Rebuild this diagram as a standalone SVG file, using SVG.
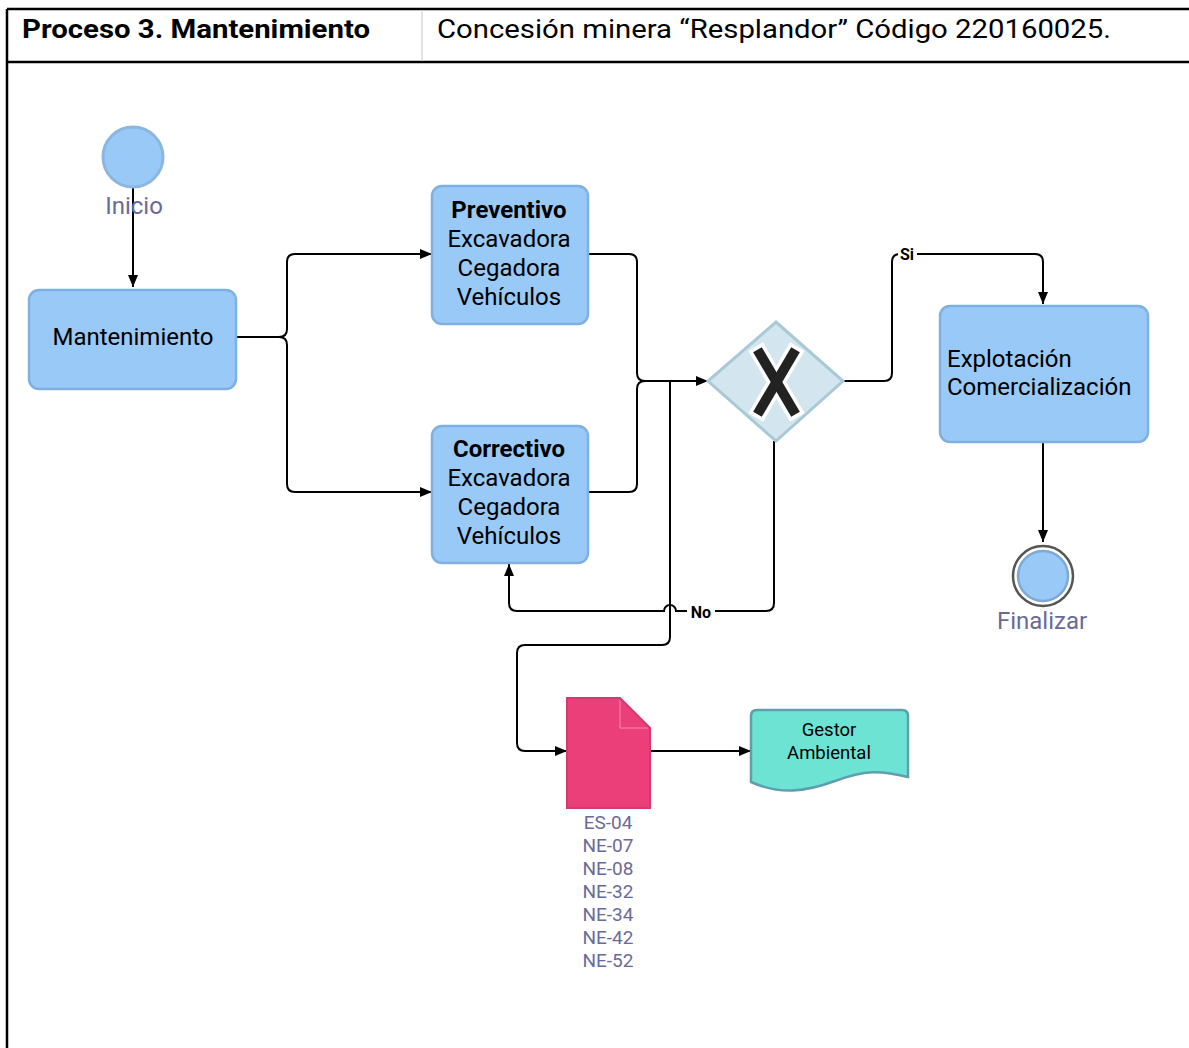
<svg xmlns="http://www.w3.org/2000/svg" width="1189" height="1048" viewBox="0 0 1189 1048">
<style>
.frame{fill:none;stroke:#000;stroke-width:2.5}
.task{fill:#99c9f7;stroke:#7eb0e2;stroke-width:2.5}
.tx{font-family:Roboto,"Liberation Sans",sans-serif;font-size:24px;fill:#000}
.lbl{font-family:Roboto,"Liberation Sans",sans-serif;fill:#6a6a9a}
.con{fill:none;stroke:#000;stroke-width:2}
.cl{font-family:Roboto,"Liberation Sans",sans-serif;font-size:16px;font-weight:bold;fill:#000}
</style>
<defs>
<marker id="ah" viewBox="0 0 12 10" refX="12" refY="5" markerWidth="12" markerHeight="10" markerUnits="userSpaceOnUse" orient="auto">
<path d="M0,0 L12,5 L0,10 Z" fill="#000"/>
</marker>
</defs>
<rect width="1189" height="1048" fill="#fff"/>
<g id="table">
<line x1="7" y1="9" x2="1189" y2="9" class="frame"/>
<line x1="7" y1="62" x2="1189" y2="62" class="frame"/>
<line x1="7" y1="9" x2="7" y2="1048" class="frame"/>
<line x1="422" y1="10" x2="422" y2="61" stroke="#d8d8d8" stroke-width="1.5"/>
<text x="22" y="38" font-family="Roboto,'Liberation Sans',sans-serif" font-size="26" font-weight="bold" textLength="348" lengthAdjust="spacingAndGlyphs">Proceso 3. Mantenimiento</text>
<text x="437" y="38" font-family="Roboto,'Liberation Sans',sans-serif" font-size="26" textLength="674" lengthAdjust="spacingAndGlyphs">Concesión minera “Resplandor” Código 220160025.</text>
</g>
<g id="connectors">
<path class="con" d="M133,188 V287" marker-end="url(#ah)"/>
<path class="con" d="M236,337 H279 Q287,337 287,329 V262 Q287,254 295,254 H432" marker-end="url(#ah)"/>
<path class="con" d="M279,337 Q287,337 287,345 V484 Q287,492 295,492 H432" marker-end="url(#ah)"/>
<path class="con" d="M588,254 H629 Q637,254 637,262 V373 Q637,381 645,381 H708" marker-end="url(#ah)"/>
<path class="con" d="M588,492 H629 Q637,492 637,484 V389 Q637,381 645,381"/>
<path class="con" d="M843,381 H884 Q892,381 892,373 V262 Q892,254 900,254 H1035 Q1043,254 1043,262 V304" marker-end="url(#ah)"/>
<path class="con" d="M1043,442 V542" marker-end="url(#ah)"/>
<path class="con" d="M774,441 V603 Q774,611 766,611 H676 A6,6 0 0 0 664,611 H517 Q509,611 509,603 V564" marker-end="url(#ah)"/>
<path class="con" d="M670,381 V637 Q670,645 662,645 H525 Q517,645 517,653 V743 Q517,751 525,751 H567" marker-end="url(#ah)"/>
<path class="con" d="M650,751 H751" marker-end="url(#ah)"/>
<rect x="687" y="603" width="28" height="17" fill="#fff"/>
<text x="701" y="618" class="cl" text-anchor="middle">No</text>
<rect x="898" y="246" width="19" height="17" fill="#fff"/>
<text x="907" y="260" class="cl" text-anchor="middle">Si</text>
</g>
<g id="inicio">
<circle cx="133" cy="157" r="30" fill="#99c9f7" stroke="#8bb6e0" stroke-width="3"/>
<text x="134" y="214" class="lbl" font-size="24" text-anchor="middle">Inicio</text>
</g>
<g id="mantenimiento">
<rect x="29" y="290" width="207" height="99" rx="10" class="task"/>
<text x="133" y="345" class="tx" text-anchor="middle">Mantenimiento</text>
</g>
<g id="preventivo">
<rect x="432" y="186" width="156" height="138" rx="10" class="task"/>
<text class="tx" text-anchor="middle"><tspan x="509" y="218" font-weight="bold">Preventivo</tspan><tspan x="509" y="247">Excavadora</tspan><tspan x="509" y="276">Cegadora</tspan><tspan x="509" y="305">Vehículos</tspan></text>
</g>
<g id="correctivo">
<rect x="432" y="426" width="156" height="137" rx="10" class="task"/>
<text class="tx" text-anchor="middle"><tspan x="509" y="457" font-weight="bold">Correctivo</tspan><tspan x="509" y="486">Excavadora</tspan><tspan x="509" y="515">Cegadora</tspan><tspan x="509" y="544">Vehículos</tspan></text>
</g>
<g id="gateway">
<path d="M776,322 L843,381 L776,441 L708,381 Z" fill="#d3e5ee" stroke="#a9c9d6" stroke-width="3"/>
<g stroke-linecap="square">
<line x1="760" y1="354" x2="793" y2="410" stroke="#fff" stroke-width="17"/>
<line x1="793" y1="354" x2="760" y2="410" stroke="#fff" stroke-width="17"/>
<line x1="760" y1="354" x2="793" y2="410" stroke="#222" stroke-width="10"/>
<line x1="793" y1="354" x2="760" y2="410" stroke="#222" stroke-width="10"/>
</g>
</g>
<g id="explotacion">
<rect x="940" y="306" width="208" height="136" rx="10" class="task"/>
<text class="tx"><tspan x="947" y="367">Explotación</tspan><tspan x="947" y="395">Comercialización</tspan></text>
</g>
<g id="finalizar">
<circle cx="1043" cy="576" r="30" fill="#fff" stroke="#555" stroke-width="2.5"/>
<circle cx="1043" cy="576" r="25" fill="#99c9f7" stroke="#7ea9d6" stroke-width="2.5"/>
<text x="1042" y="629" class="lbl" font-size="24" text-anchor="middle">Finalizar</text>
</g>
<g id="documento">
<path d="M567,698 H620 L650,728 V808 H567 Z" fill="#ea3f78" stroke="#d63a6c" stroke-width="2"/>
<path d="M620,700 V728 H648" fill="none" stroke="#f28aab" stroke-width="1"/>
<text class="lbl" font-size="19" text-anchor="middle"><tspan x="608" y="829">ES-04</tspan><tspan x="608" y="852">NE-07</tspan><tspan x="608" y="875">NE-08</tspan><tspan x="608" y="898">NE-32</tspan><tspan x="608" y="921">NE-34</tspan><tspan x="608" y="944">NE-42</tspan><tspan x="608" y="967">NE-52</tspan></text>
</g>
<g id="gestor">
<path d="M757,710 H902 Q908,710 908,716 V777 C880,770 865,770 835,781 C805,792 780,795 751,782 V716 Q751,710 757,710 Z" fill="#6de3d3" stroke="#5f9eae" stroke-width="2.5"/>
<text x="829" y="736" font-family="Roboto,'Liberation Sans',sans-serif" font-size="18.5" text-anchor="middle">Gestor</text>
<text x="829" y="759" font-family="Roboto,'Liberation Sans',sans-serif" font-size="18.5" text-anchor="middle">Ambiental</text>
</g>
</svg>
